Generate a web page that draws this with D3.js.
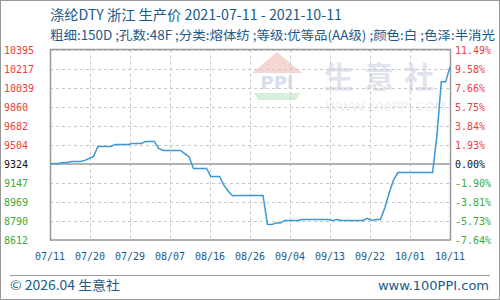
<!DOCTYPE html>
<html><head><meta charset="utf-8">
<script src="https://cdn.jsdelivr.net/npm/d3@7/dist/d3.min.js"></script>
<style>body{margin:0;background:#fff}svg{display:block}</style>
</head><body><svg id="c" width="500" height="300"></svg>
<script>
const titleText = "涤纶DTY 浙江 生产价 2021-07-11 - 2021-10-11";
const subtitleText = "粗细:150D ;孔数:48F ;分类:熔体纺 ;等级:优等品(AA级) ;颜色:白 ;色泽:半消光";
const startDate = "2021-07-11";
const prices = [
 9324,9329,9329,9338,9338,9347,9347,9347,9357,9375,
 9394,9488,9488,9488,9488,9507,9507,9507,9507,9516,
 9516,9516,9535,9535,9535,9469,9450,9450,9450,9450,
 9450,9420,9390,9282,9282,9282,9282,9207,9207,9207,
 9126,9069,9027,9029,9029,9029,9029,9029,9029,9029,
 8760,8758,8770,8770,8795,8795,8795,8795,8804,8804,
 8804,8804,8804,8804,8804,8795,8804,8795,8795,8795,
 8795,8795,8795,8814,8795,8804,8804,8911,9051,9172,
 9243,9244,9244,9244,9244,9244,9244,9244,9244,9593,
 10092,10092,10232
];
const yTicks = [10395,10217,10039,9860,9682,9504,9324,9147,8969,8790,8612];
const pctLabels = ["11.49%","9.58%","7.66%","5.75%","3.84%","1.93%","0.00%","-1.90%","-3.81%","-5.73%","-7.64%"];
const xLabels = ["07/11","07/20","07/29","08/07","08/16","08/26","09/04","09/13","09/22","10/01","10/11"];
const baseValue = 9324;

const svg = d3.select("#c");
const L=50,R=450,T=49.5,B=240;
const parse = d3.timeParse("%Y-%m-%d");
const d0 = parse(startDate);
const data = prices.map((v,i)=>({d:d3.timeDay.offset(d0,i), v}));
const x = d3.scaleTime().domain(d3.extent(data,d=>d.d)).range([L,R]);
const xl = d3.scalePoint().domain(xLabels).range([L,R]);
const y = d3.scaleLinear().domain([8612,10395]).range([B,T]);

const blue="#1a5a8a";
svg.append("rect").attr("x",0.5).attr("y",0.5).attr("width",499).attr("height",299).attr("fill","none").attr("stroke","#999");

svg.append("text").attr("x",50).attr("y",20).attr("fill",blue).attr("font-family","Noto Sans CJK SC").attr("font-size",14)
 .attr("textLength",292).attr("lengthAdjust","spacingAndGlyphs").text(titleText);
svg.append("text").attr("x",50).attr("y",40).attr("fill",blue).attr("font-family","Noto Sans CJK SC").attr("font-size",12.5)
 .attr("textLength",445).attr("lengthAdjust","spacingAndGlyphs").text(subtitleText);

// watermark
const wm = svg.append("g");
wm.append("path").attr("d","M252,73 L277,52 L302,73 Z").attr("fill","#f6d6d2");
wm.append("text").attr("x",277).attr("y",89).attr("text-anchor","middle").attr("font-family","DejaVu Sans").attr("font-weight","bold").attr("font-size",18).attr("fill","#d6deee").text("PPI");
wm.append("path").attr("d","M254,93 L300,93 L296,100 L258,100 Z").attr("fill","#d8eedd");
wm.append("text").attr("x",324).attr("y",88).attr("font-family","Noto Sans CJK SC").attr("font-weight","bold").attr("font-size",30).attr("letter-spacing",10).attr("fill","#dfe3ee").text("生意社");
wm.append("text").attr("x",446).attr("y",111).attr("text-anchor","end").attr("font-family","DejaVu Sans").attr("font-size",13).attr("fill","#eceef2").text("WWW.100PPI.COM");

const g = svg.append("g");
g.selectAll("line.h").data(yTicks.filter(v=>v!==baseValue)).join("line")
 .attr("x1",L).attr("x2",R).attr("y1",d=>Math.round(y(d))+0.5).attr("y2",d=>Math.round(y(d))+0.5)
 .attr("stroke","#c8c8c8").attr("stroke-dasharray","3,3");
g.selectAll("line.v").data(xLabels).join("line")
 .attr("y1",T).attr("y2",B).attr("x1",d=>Math.round(xl(d))+0.5).attr("x2",d=>Math.round(xl(d))+0.5)
 .attr("stroke","#c8c8c8").attr("stroke-dasharray","3,3");
g.append("line").attr("x1",L).attr("x2",R).attr("y1",y(baseValue)).attr("y2",y(baseValue)).attr("stroke","#999").attr("stroke-width",1.5);
svg.append("rect").attr("x",L+0.5).attr("y",T).attr("width",R-L).attr("height",B-T).attr("fill","none").attr("stroke","#999").attr("stroke-width",1.5);

svg.append("path").datum(data).attr("fill","none").attr("stroke","#3a98d6").attr("stroke-width",1.5)
 .attr("d",d3.line().x(d=>x(d.d)).y(d=>y(d.v)));

const mono="DejaVu Sans Mono";
const col = v=> v>baseValue?"#f03c3c":(v<baseValue?"#3aaa3a":"#111");
svg.selectAll("text.yl").data(yTicks).join("text")
 .attr("x",4).attr("y",d=>y(d)+4).attr("font-family",mono).attr("font-size",10)
 .attr("fill",d=>col(d)).text(d=>d);
svg.selectAll("text.yr").data(pctLabels.map((p,i)=>({p,v:yTicks[i]}))).join("text")
 .attr("x",455).attr("y",d=>y(d.v)+4).attr("font-family",mono).attr("font-size",10)
 .attr("fill",d=>col(d.v)).text(d=>d.p);
svg.selectAll("text.xl").data(xLabels).join("text")
 .attr("x",d=>xl(d)).attr("y",260).attr("text-anchor","middle").attr("font-family",mono).attr("font-size",10)
 .attr("fill",blue).text(d=>d);

svg.append("line").attr("x1",10).attr("x2",490).attr("y1",275.5).attr("y2",275.5).attr("stroke","#999");
svg.append("text").attr("x",10).attr("y",290).attr("fill",blue).attr("font-family","Noto Sans CJK SC").attr("font-size",13)
 .attr("textLength",110).attr("lengthAdjust","spacingAndGlyphs").text("© 2026.04 生意社");
svg.append("text").attr("x",489).attr("y",290).attr("text-anchor","end").attr("fill",blue).attr("font-family","DejaVu Sans").attr("font-size",13)
 .text("www.100PPI.com");
</script></body></html>
